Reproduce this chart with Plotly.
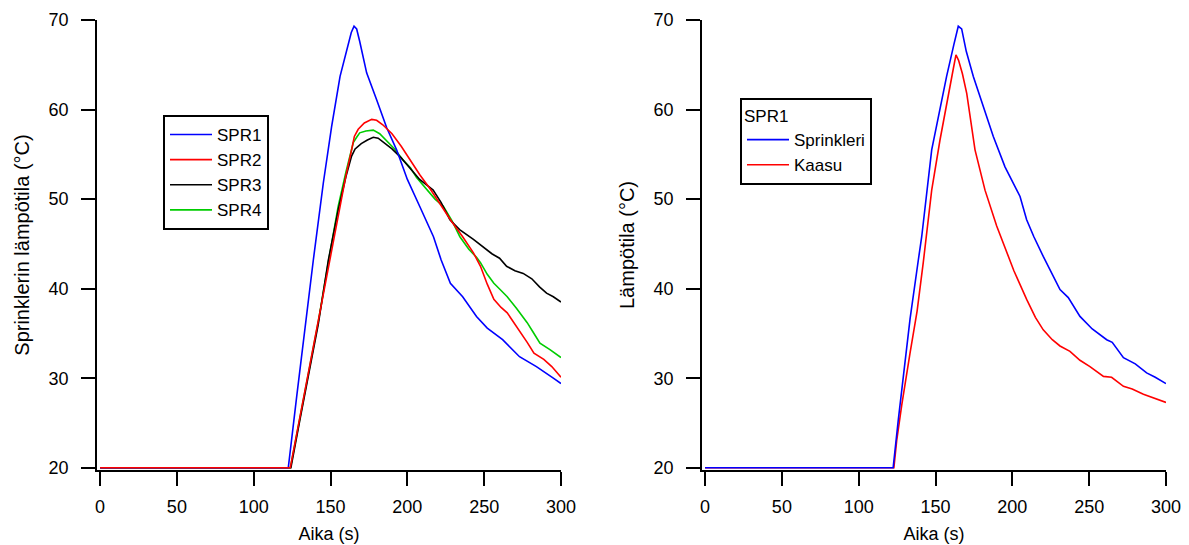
import plotly.graph_objects as go

# ---------------- data: left panel ----------------
spr1_t = [0, 122.5, 128, 134, 138.8, 145.3, 150.7, 156.2, 161, 163.5, 165.3, 167, 169, 173.5, 180, 186.5,
          193, 200, 208, 217, 222, 228, 236, 245, 252, 262, 273, 284, 295, 300]
spr1_T = [20, 20, 28, 36.5, 43.2, 51.8, 58.1, 63.7, 67, 68.6, 69.3, 69.0, 67.6, 64.1, 61.1, 58,
          55.5, 52.2, 49.2, 45.8, 43.2, 40.6, 39.1, 36.9, 35.6, 34.3, 32.4, 31.3, 30.0, 29.4]

spr2_t = [0, 123.8, 130, 137, 142, 149.6, 156, 160, 163.7, 165.5, 168, 172, 176.8, 180, 184, 190, 196, 202,
          208.2, 215, 222, 228.8, 236, 243, 247.6, 252, 256.3, 261, 265, 269, 273.7, 278, 282.4, 288.8, 294, 300]
spr2_T = [20, 20, 25.6, 32, 36.5, 43.2, 49, 52.6, 55.5, 57, 57.8, 58.5, 58.9, 58.8, 58.3, 57.3, 55.9, 54.3,
          52.7, 51.1, 49.2, 47.5, 45.8, 44, 42.5, 40.5, 38.8, 37.9, 37.3, 36.3, 35.1, 34, 32.8, 32.1, 31.3, 30.1]

spr3_t = [0, 124.2, 130, 137, 142, 148.6, 155, 160, 163.7, 166, 170, 174, 177.8, 181, 185, 190, 196, 202,
          208, 216.8, 222, 227.7, 234, 243, 250, 255, 260, 264.6, 270, 275.4, 281, 286, 290.6, 295, 300]
spr3_T = [20, 20, 25.3, 31.5, 36, 43.2, 48.8, 52.5, 54.8, 55.6, 56.2, 56.6, 56.9, 56.8, 56.3, 55.6, 54.6, 53.4,
          52.2, 51.0, 49.6, 47.7, 46.6, 45.5, 44.6, 43.9, 43.4, 42.5, 42.0, 41.7, 41.1, 40.2, 39.5, 39.1, 38.5]

spr4_t = [0, 123.9, 130, 137, 142, 148.8, 155, 160, 164.8, 167, 169, 173, 177.8, 182, 186, 191.7, 197, 202,
          206, 212.5, 218, 223.4, 229, 234.2, 240, 245, 247.6, 252, 256.3, 261, 265, 271, 278, 282, 286.3,
          292.8, 300]
spr4_T = [20, 20, 25.5, 31.8, 36.3, 43.2, 49.2, 53, 56.3, 56.9, 57.4, 57.6, 57.7, 57.3, 56.6, 55.6, 54.4, 53.5,
          52.4, 51.1, 50.0, 49.2, 47.6, 45.8, 44.4, 43.5, 42.9, 41.6, 40.6, 39.8, 39.1, 37.8, 36.2, 35.1, 33.9,
          33.2, 32.3]

# ---------------- data: right panel (SPR1) ----------------
spr_t = [0, 122.4, 125.8, 133.4, 138.8, 141, 147.5, 152, 157.2, 162, 164.8, 167, 170, 174.6, 180, 187.6,
         195.2, 200, 205, 209.3, 214, 220.1, 226, 231, 236.4, 244, 252, 261.4, 265, 272.3, 280, 287.4, 293, 300]
spr_T = [20, 20, 25.4, 36.6, 43.2, 45.8, 55.5, 59.5, 63.7, 67.3, 69.3, 69.0, 66.5, 63.7, 61, 57,
         53.6, 52, 50.3, 47.7, 45.8, 43.6, 41.5, 39.9, 39, 36.9, 35.5, 34.3, 34, 32.3, 31.6, 30.6, 30.1, 29.4]

gas_t = [0, 122.9, 124.7, 128, 133.4, 138, 142, 147.5, 152.9, 158.3, 161.5, 163.3, 165, 167.5, 170.3, 175.7,
         182.2, 189.8, 196.3, 201, 209.3, 215, 220.1, 226, 231, 237.5, 244, 250.5, 259.3, 264.6, 272.3, 278,
         285.3, 292, 300]
gas_T = [20, 20, 23, 27, 32.8, 37.5, 42.9, 51, 56.6, 61.8, 64.5, 66.1, 65.5, 64, 61.8, 55.5,
         51, 47, 44, 42, 38.8, 36.8, 35.4, 34.3, 33.6, 33.0, 32.0, 31.3, 30.2, 30.1, 29.1, 28.8,
         28.2, 27.8, 27.3]

x_ticks = [0, 50, 100, 150, 200, 250, 300]
y_ticks = [20, 30, 40, 50, 60, 70]

# (name, t, T, colour, legend rank) - listed in drawing order (last drawn on top)
left_series = [("SPR4", spr4_t, spr4_T, "#00cc00", 4),
               ("SPR3", spr3_t, spr3_T, "#000000", 3),
               ("SPR1", spr1_t, spr1_T, "#0000ff", 1),
               ("SPR2", spr2_t, spr2_T, "#ff0000", 2)]
right_series = [("Kaasu", gas_t, gas_T, "#ff0000", 2),
                ("Sprinkleri", spr_t, spr_T, "#0000ff", 1)]

FONT = "Liberation Sans, Arial, sans-serif"

fig = go.Figure()
for name, t, T, c, rank in left_series:
    fig.add_trace(go.Scatter(x=t, y=T, mode="lines", name=name, line=dict(color=c, width=1.6),
                             xaxis="x", yaxis="y", legend="legend", legendrank=rank))
for name, t, T, c, rank in right_series:
    fig.add_trace(go.Scatter(x=t, y=T, mode="lines", name=name, line=dict(color=c, width=1.6),
                             xaxis="x2", yaxis="y2", legend="legend2", legendrank=rank))

W, H = 1189, 545
ybot = 1 - 470 / H
ytop = 1 - 20 / H

axis_common = dict(showline=True, linecolor="black", linewidth=1.5, ticks="outside", ticklen=14,
                   tickwidth=1.5, tickcolor="black", showgrid=False, zeroline=False,
                   tickfont=dict(family=FONT, size=18, color="black"), automargin=False)

xcommon = dict(axis_common, range=[-2, 300], tickvals=x_ticks, ticklabelstandoff=6,
               title=dict(text="Aika (s)", font=dict(family=FONT, size=18, color="black"), standoff=11))
ycommon = dict(axis_common, range=[19.75, 70], tickvals=y_ticks, ticklabelstandoff=9)

fig.update_layout(
    width=W, height=H,
    margin=dict(l=0, r=0, t=0, b=0),
    paper_bgcolor="white", plot_bgcolor="white",
    font=dict(family=FONT, size=18, color="black"),
    showlegend=True,
    xaxis=dict(xcommon, domain=[97 / W, 561 / W], anchor="y"),
    yaxis=dict(ycommon, domain=[ybot, ytop], anchor="x",
               title=dict(text="Sprinklerin lämpötila (°C)", font=dict(family=FONT, size=20, color="black"),
                          standoff=14)),
    xaxis2=dict(xcommon, domain=[702 / W, 1166 / W], anchor="y2"),
    yaxis2=dict(ycommon, domain=[ybot, ytop], anchor="x2",
                title=dict(text="Lämpötila (°C)", font=dict(family=FONT, size=20, color="black"),
                           standoff=14)),
    legend=dict(x=163 / W, y=1 - 115 / H, xanchor="left", yanchor="top", bgcolor="white",
                bordercolor="black", borderwidth=2, font=dict(family=FONT, size=17, color="black"),
                tracegroupgap=0, itemwidth=42, traceorder="normal"),
    legend2=dict(x=740 / W, y=1 - 98 / H, xanchor="left", yanchor="top", bgcolor="white",
                 bordercolor="black", borderwidth=2, font=dict(family=FONT, size=17, color="black"),
                 title=dict(text="SPR1", font=dict(family=FONT, size=17, color="black")),
                 tracegroupgap=0, itemwidth=42, traceorder="normal"),
)

fig.write_html("out.html")
